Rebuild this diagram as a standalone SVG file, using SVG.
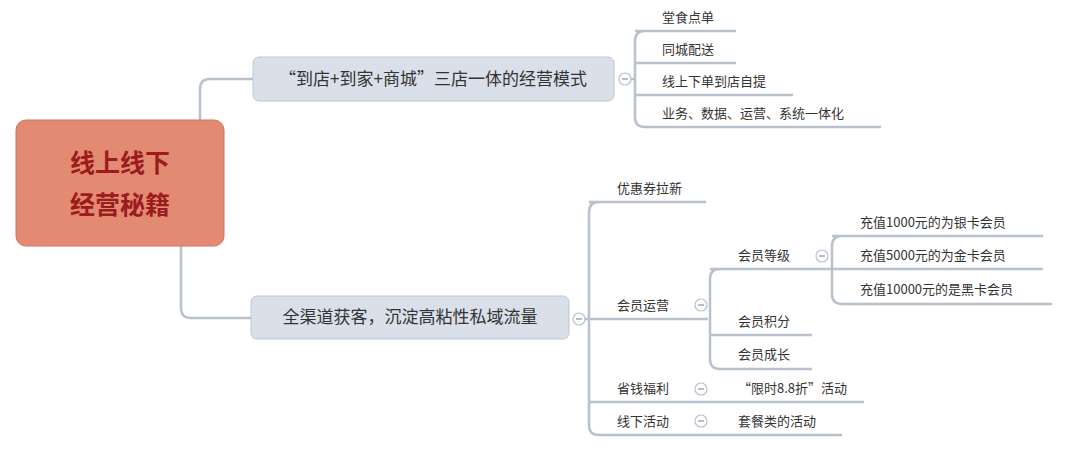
<svg xmlns="http://www.w3.org/2000/svg" width="1080" height="450" viewBox="0 0 1080 450">
<style>
.ln{fill:none;stroke:#b9c1cc;stroke-width:2.5}
.t{font-family:"Noto Sans CJK SC",sans-serif;font-size:13px;fill:#333}
.b{font-family:"Noto Sans CJK SC",sans-serif;font-size:17px;fill:#333}
.c{fill:#fff;stroke:#b9c1cc;stroke-width:1.2}
.cm{stroke:#8890a0;stroke-width:1.2}
</style>
<rect width="1080" height="450" fill="#fff"/>
<g id="connectors">
<path class="ln" d="M200 120 V89 Q200 79 210 79 H253"/>
<path class="ln" d="M181 246 V308 Q181 318 191 318 H251"/>
<path class="ln" d="M631 79 H635 M645 31 Q635 31 635 41 V117 Q635 127 645 127 H881 M635 31 H736 M635 63 H736 M635 95 H793"/>
<path class="ln" d="M585 319 H708 M599 202 Q589 202 589 212 V425 Q589 435 599 435 H842 M589 202 H706 M589 402 H864"/>
<path class="ln" d="M720 269 Q710 269 710 279 V359 Q710 369 720 369 H812 M710 269 H832 M710 335 H812 M710 319 V279"/>
<path class="ln" d="M842 236 Q832 236 832 246 V294 Q832 304 842 304 H1052 M832 236 H1043 M832 269 H1043"/>
</g>
<g id="root"><rect x="16" y="120" width="208" height="126" rx="10" fill="#e38b72" stroke="#d07360"/>
<text x="120" y="172" text-anchor="middle" font-family="Noto Sans CJK SC,sans-serif" font-size="25" font-weight="bold" fill="#9b1c1c">线上线下</text>
<text x="120" y="214" text-anchor="middle" font-family="Noto Sans CJK SC,sans-serif" font-size="25" font-weight="bold" fill="#9b1c1c">经营秘籍</text></g>
<g id="b1"><rect x="253" y="57" width="361" height="44" rx="6" fill="#d9e0ea" stroke="#bcc5d2"/>
<text class="b" x="433" y="85" text-anchor="middle">“到店+到家+商城”三店一体的经营模式</text>
<circle class="c" cx="625" cy="79" r="6"/><path class="cm" d="M622 79 H628"/></g>
<g id="b2"><rect x="251" y="296" width="318" height="43" rx="6" fill="#d9e0ea" stroke="#bcc5d2"/>
<text class="b" x="410" y="323" text-anchor="middle">全渠道获客，沉淀高粘性私域流量</text>
<circle class="c" cx="579" cy="319" r="6"/><path class="cm" d="M576 319 H582"/></g>
<g id="leaves1">
<text class="t" x="662" y="22">堂食点单</text>
<text class="t" x="662" y="54">同城配送</text>
<text class="t" x="662" y="86">线上下单到店自提</text>
<text class="t" x="662" y="118">业务、数据、运营、系统一体化</text>
</g>
<g id="leaves2">
<text class="t" x="617" y="193">优惠券拉新</text>
<text class="t" x="617" y="310">会员运营</text>
<circle class="c" cx="701" cy="305" r="6"/><path class="cm" d="M698 305 H704"/>
<text class="t" x="738" y="260">会员等级</text>
<circle class="c" cx="822" cy="256" r="6"/><path class="cm" d="M819 256 H825"/>
<text class="t" x="860" y="227">充值1000元的为银卡会员</text>
<text class="t" x="860" y="260">充值5000元的为金卡会员</text>
<text class="t" x="860" y="294">充值10000元的是黑卡会员</text>
<text class="t" x="738" y="326">会员积分</text>
<text class="t" x="738" y="359">会员成长</text>
<text class="t" x="617" y="393">省钱福利</text>
<circle class="c" cx="701" cy="389" r="6"/><path class="cm" d="M698 389 H704"/>
<text class="t" x="738" y="393">“限时8.8折”活动</text>
<text class="t" x="617" y="426">线下活动</text>
<circle class="c" cx="701" cy="421" r="6"/><path class="cm" d="M698 421 H704"/>
<text class="t" x="738" y="426">套餐类的活动</text>
</g>
</svg>
